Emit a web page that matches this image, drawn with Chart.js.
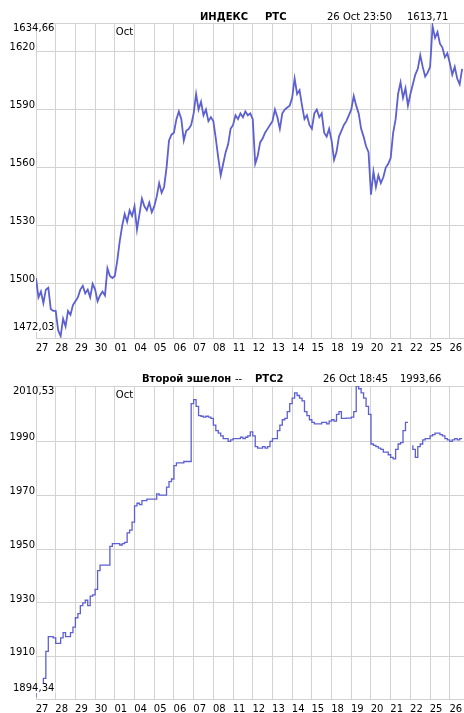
<!DOCTYPE html>
<html><head><meta charset="utf-8">
<script src="https://cdn.jsdelivr.net/npm/chart.js@4.4.1/dist/chart.umd.min.js"></script>
<style>
html,body{margin:0;padding:0;background:#fff;overflow:hidden}
.box{position:absolute;left:0;width:464px}
#b1{top:0;height:360px}
#b2{top:360px;height:353px}
</style></head><body>
<div class="box" id="b1"><canvas id="c1" width="464" height="360"></canvas></div>
<div class="box" id="b2"><canvas id="c2" width="464" height="353"></canvas></div>
<script>
/* ---------- data ---------- */
// trading days on the x axis (Sep 27 .. Oct 26)
const DAYS = ['27','28','29','30','01','04','05','06','07','08','11','12','13','14','15','18','19','20','21','22','25','26'];
const MONTH = 'Oct', MONTH_AT = 4;
const PER_DAY = 8;          // samples per trading day
const X_MAX = 21.72;        // last day is partly shown

// РТС index, 8 readings per day
const RTS = [
  1503,1493,1496,1490,1497,1498,1487,1486,
  1486,1476,1473,1482,1478,1486,1484,1489,
  1491,1493,1497,1499,1495,1497,1493,1500,
  1497,1491,1494,1496,1494,1508,1504,1503,
  1504,1512,1522,1530,1536,1532,1538,1535,
  1540,1528,1536,1544,1540,1538,1542,1537,
  1540,1545,1552,1547,1550,1560,1574,1577,
  1578,1585,1589,1585,1574,1579,1580,1582,
  1588,1598,1590,1594,1587,1590,1584,1586,
  1584,1575,1565,1556,1562,1568,1572,1580,
  1582,1587,1585,1588,1586,1589,1587,1588,
  1585,1562,1566,1573,1575,1578,1580,1582,
  1584,1590,1586,1580,1588,1590,1591,1592,
  1596,1606,1598,1600,1592,1585,1587,1582,
  1580,1588,1590,1586,1588,1578,1576,1580,
  1574,1564,1568,1576,1579,1582,1584,1587,
  1590,1597,1592,1588,1580,1576,1571,1568,
  1546,1558,1550,1556,1552,1555,1560,1562,
  1565,1578,1585,1598,1604,1596,1601,1592,
  1598,1603,1608,1611,1618,1612,1607,1609,
  1612,1633,1627,1630,1624,1622,1617,1619,
  1614,1608,1612,1606,1603,1611
];
const RTS_MIN = 1472.03, RTS_MAX = 1634.66;
const RTS_TICKS = [1500,1530,1560,1590,1620];

// РТС2 (second tier), 8 readings per day, null = break in the line
const RTS2 = [
  1895,1897,1899,1900,1902,1912,1917.5,1917.5,
  1917,1915,1915,1917,1919,1917.5,1917.5,1919,
  1921,1924.5,1926,1929,1930,1931,1929,1932.5,
  1933,1935,1942,1944,1944,1944,1944,1951,
  1952,1952,1952,1951.5,1952,1952.5,1956,1957,
  1960,1966,1967,1966.5,1968,1968,1968.5,1968.5,
  1968.5,1968.5,1970.5,1970,1970,1970,1973,1975,
  1976,1981,1982,1982,1982,1982.5,1982.5,1982.5,
  2004,2005.5,2003,1999.5,1999.3,1999,1999.3,1999,
  1998.5,1996,1994,1993,1992,1991,1991,1990,
  1990.5,1991,1991,1991,1991.5,1991,1991.5,1992,
  1993.5,1992,1988,1987.5,1987.5,1988,1987.5,1988,
  1990,1991,1991,1994,1996,1998,1998.5,2001,
  2004,2006,2008,2007,2006,2005,2001,1999.5,
  1998,1997,1996.5,1996.5,1996.5,1997,1997,1996.5,
  1997.5,1998,1997.5,2000,2001,1998.5,1998.5,1998.6,
  1998.6,1999,2001,2010.5,2009.5,2008,2006,2003,
  2000,1989,1988.5,1988,1987.5,1987,1986,1986,
  1985,1984,1983.5,1987,1989,1989.5,1994,1997,
  null,1988.5,1987,1984,1988,1989,1990.5,1991,
  1991,1992,1992.5,1993,1993,1992.5,1992,1991,
  1990.5,1990,1990.5,1991,1990.5,1991
];
const RTS2_MIN = 1894.34, RTS2_MAX = 2010.53;
const RTS2_TICKS = [1910,1930,1950,1970,1990];

/* ---------- style ---------- */
const LINE = '#5d60d0';
const GRID = '#d2d2d2';
const TXT  = '#000';
const FONT = {family:'DejaVu Sans', size:10};
const FONT_CSS = '10px "DejaVu Sans"';
const FONT_B = 'bold 10px "DejaVu Sans"';

const fmt = v => v.toFixed(2).replace('.', ',');

/* ---------- header / month / extreme labels ---------- */
const header = {
  id:'header',
  afterDraw(chart, args, opts){
    const {ctx, chartArea, scales:{x, y}} = chart;
    ctx.save();
    ctx.fillStyle = TXT;
    ctx.textAlign = 'left';
    ctx.textBaseline = 'middle';
    opts.parts.forEach(p=>{ ctx.font = p.bold ? FONT_B : FONT_CSS; ctx.fillText(p.text, p.x, opts.y); });
    ctx.font = FONT_CSS;
    // month marker
    ctx.textBaseline = 'top';
    ctx.fillText(MONTH, x.getPixelForValue(MONTH_AT) + 1, chartArea.top + 4);
    // max / min of the period
    ctx.textBaseline = 'middle';
    ctx.fillText(fmt(y.max), 13, y.getPixelForValue(y.max) + 5);
    const lo = fmt(y.min), ly = y.getPixelForValue(y.min) - 11;
    const w = ctx.measureText(lo).width;
    ctx.fillStyle = '#fff';
    ctx.fillRect(12, ly - 5, w + 2, 10);
    ctx.fillStyle = TXT;
    ctx.fillText(lo, 13, ly);
    ctx.restore();
  }
};

/* ---------- chart factory ---------- */
function priceChart(id, o){
  return new Chart(document.getElementById(id), {
    type:'line',
    data:{datasets:[{
      data:o.values.map((v,i)=>({x:i/PER_DAY, y:v})),
      borderColor:LINE, borderWidth:o.width, pointRadius:0,
      stepped:o.stepped || false, spanGaps:false, tension:0
    }]},
    options:{
      responsive:false, animation:false, devicePixelRatio:1,
      layout:{padding:{top:o.top, left:0, right:0, bottom:0}},
      plugins:{legend:{display:false}, tooltip:{enabled:false}, header:{parts:o.header, y:o.headerY}},
      scales:{
        x:{type:'linear', min:0, max:X_MAX,
          afterBuildTicks:s=>{ s.ticks = DAYS.map((d,i)=>({value:i})); },
          afterFit:s=>{ s.height = o.xh; },
          grid:{color:GRID, drawTicks:false}, border:{color:GRID},
          ticks:{autoSkip:false, maxRotation:0, padding:4, labelOffset:6, color:TXT, font:FONT,
            callback:(v,i)=>DAYS[i]}},
        y:{type:'linear', min:o.min, max:o.max,
          afterBuildTicks:s=>{ s.ticks = [o.min, ...o.ticks, o.max].map(v=>({value:v})); },
          afterFit:s=>{ s.width = 36; },
          grid:{color:GRID, drawTicks:false}, border:{color:GRID},
          ticks:{padding:1, labelOffset:-4, color:TXT, font:FONT,
            callback:v=>o.ticks.includes(v) ? String(v) : ''}}
      }
    },
    plugins:[header]
  });
}

priceChart('c1', {
  values:RTS, min:RTS_MIN, max:RTS_MAX, ticks:RTS_TICKS, width:1.8,
  top:23, xh:22, headerY:17,
  header:[
    {text:'ИНДЕКС', x:200, bold:true},
    {text:'РТС', x:265, bold:true},
    {text:'26 Oct 23:50', x:327},
    {text:'1613,71', x:407}
  ]
});

priceChart('c2', {
  values:RTS2, min:RTS2_MIN, max:RTS2_MAX, ticks:RTS2_TICKS, width:1.3, stepped:'after',
  top:26, xh:14, headerY:19,
  header:[
    {text:'Второй эшелон', x:142, bold:true},
    {text:'--', x:235},
    {text:'РТС2', x:255, bold:true},
    {text:'26 Oct 18:45', x:323},
    {text:'1993,66', x:400}
  ]
});
</script>
</body></html>
